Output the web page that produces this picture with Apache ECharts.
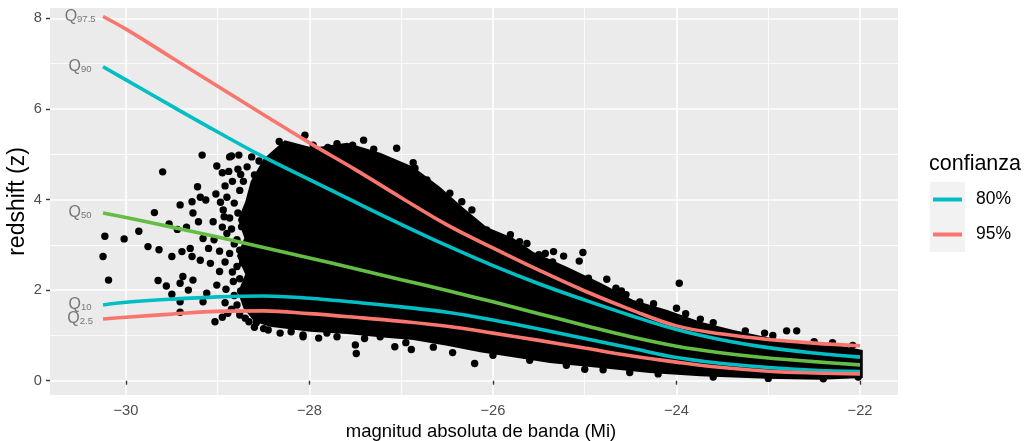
<!DOCTYPE html>
<html>
<head>
<meta charset="utf-8">
<script src="https://cdn.jsdelivr.net/npm/echarts@6.0.0/dist/echarts.min.js"></script>
<style>
  html, body { margin: 0; padding: 0; background: #ffffff; }
  #chart { width: 1027px; height: 441px; }
</style>
</head>
<body>
<div id="chart"></div>
<script>
// Absolute magnitude (Mi) at which the conditional quantile curves are sampled
const magGrid = [-30.25, -30, -29.5, -29, -28.5, -28, -27.5, -27, -26.5, -26, -25.5, -25, -24.5, -24, -23.5, -23, -22.5, -22];

// Conditional quantiles of redshift
const q975 = [8.04, 7.76, 7.13, 6.50, 5.87, 5.25, 4.66, 4.04, 3.44, 2.93, 2.44, 1.98, 1.57, 1.21, 1.03, 0.91, 0.83, 0.77];
const q90  = [6.93, 6.64, 6.06, 5.49, 4.94, 4.44, 3.94, 3.45, 2.98, 2.54, 2.14, 1.78, 1.44, 1.13, 0.90, 0.73, 0.61, 0.52];
const q50  = [3.70, 3.60, 3.39, 3.17, 2.94, 2.71, 2.47, 2.23, 1.99, 1.74, 1.48, 1.22, 0.97, 0.76, 0.61, 0.50, 0.42, 0.35];
const q10  = [1.67, 1.73, 1.80, 1.85, 1.87, 1.82, 1.73, 1.63, 1.51, 1.34, 1.14, 0.93, 0.72, 0.51, 0.38, 0.29, 0.23, 0.20];
const q025 = [1.36, 1.40, 1.47, 1.53, 1.54, 1.48, 1.40, 1.31, 1.20, 1.05, 0.89, 0.72, 0.55, 0.41, 0.29, 0.21, 0.17, 0.15];

// Subscripts of the quantile annotations and where they sit on the magnitude axis
const quantileNames = ['97.5', '90', '50', '10', '2.5'];
const annotationMag = -30.5;

// Outline of the densely populated part of the sample (upper and lower edge)
const cloudUpper = [[-28.72, 1.60], [-28.78, 1.95], [-28.70, 2.35], [-28.79, 2.75], [-28.71, 3.15], [-28.78, 3.55],
  [-28.70, 3.95], [-28.64, 4.40], [-28.50, 4.90], [-28.33, 5.20], [-28.27, 5.31],
  [-27.96, 5.14], [-27.59, 5.25], [-27.23, 5.03], [-26.87, 4.72], [-26.58, 4.28], [-26.33, 3.83], [-26.07, 3.39],
  [-25.78, 3.15], [-25.56, 2.84], [-25.19, 2.51], [-24.83, 2.16], [-24.47, 1.78], [-24.10, 1.56], [-23.74, 1.30],
  [-23.38, 1.12], [-23.01, 0.96], [-22.65, 0.83], [-22.21, 0.77], [-21.97, 0.68]];
const cloudLower = [[-28.72, 1.60], [-28.60, 1.30], [-28.43, 1.19], [-27.99, 1.08], [-27.59, 1.03], [-27.23, 0.96],
  [-26.87, 0.90], [-26.50, 0.77], [-26.14, 0.63], [-25.78, 0.52], [-25.38, 0.39], [-24.83, 0.28], [-24.29, 0.17],
  [-23.74, 0.10], [-23.01, 0.04], [-22.44, 0.02], [-21.97, 0.06]];

// Individual quasars outside the dense core
const quasars = [
  [-29.17, 4.98], [-29.60, 4.61], [-29.01, 4.74], [-28.95, 4.59], [-28.87, 4.94], [-28.77, 4.98], [-28.63, 4.94],
  [-29.22, 4.28], [-29.02, 4.12], [-29.28, 3.95], [-29.41, 3.88], [-29.19, 4.05], [-29.13, 3.99], [-29.69, 3.71],
  [-30.23, 3.19], [-30.02, 3.13], [-29.86, 3.30], [-29.53, 3.46], [-29.44, 3.34], [-29.34, 3.39], [-29.27, 3.70],
  [-29.21, 3.51], [-29.76, 2.96], [-29.64, 2.89], [-30.25, 2.74], [-29.50, 2.74], [-29.39, 2.85], [-29.30, 2.92],
  [-29.28, 2.74], [-29.19, 2.66], [-29.10, 2.92], [-29.16, 3.14], [-29.04, 3.11], [-28.95, 3.39], [-29.05, 3.51],
  [-28.94, 3.77], [-28.87, 3.59], [-30.19, 2.22], [-29.65, 2.21], [-29.56, 2.09], [-29.41, 2.15], [-29.38, 2.30],
  [-29.27, 2.22], [-29.50, 1.91], [-29.41, 1.74], [-29.32, 2.00], [-29.16, 1.74], [-29.12, 1.93], [-29.01, 2.11],
  [-28.98, 2.41], [-29.08, 2.59], [-29.41, 1.51], [-29.03, 1.30], [-28.89, 1.49], [-28.79, 1.67], [-28.68, 1.71],
  [-28.58, 1.28], [-28.83, 2.19], [-28.79, 2.52], [-28.87, 2.81], [-28.79, 3.11], [-28.07, 1.01], [-28.21, 1.23],
  [-28.05, 5.42], [-28.33, 5.28], [-28.23, 5.18], [-27.96, 5.20], [-27.80, 5.15], [-27.70, 5.23], [-27.53, 5.20],
  [-27.41, 5.31], [-27.30, 5.11], [-27.05, 5.13], [-26.87, 4.81], [-26.85, 4.69], [-26.72, 4.43], [-26.47, 4.14],
  [-26.34, 3.95], [-26.23, 3.77], [-26.18, 3.40], [-26.07, 3.33], [-25.81, 3.22], [-25.71, 3.07], [-25.63, 3.03],
  [-25.43, 2.81], [-25.34, 2.85], [-25.23, 2.75], [-25.02, 2.83], [-25.06, 2.64], [-24.96, 2.26], [-24.76, 2.24],
  [-24.66, 2.04], [-24.40, 1.74], [-23.97, 2.15], [-24.00, 1.60], [-23.74, 1.36], [-23.04, 1.05], [-22.80, 1.10],
  [-22.69, 1.10], [-28.85, 4.96], [-28.78, 4.67], [-28.60, 4.54],
  [-28.07, 0.97], [-27.96, 1.19], [-27.90, 0.94], [-27.81, 1.05], [-27.74, 1.19], [-27.50, 0.79], [-27.49, 0.60],
  [-27.23, 0.97], [-27.07, 0.75], [-26.89, 0.69], [-26.44, 0.62], [-26.20, 0.38], [-25.00, 0.25], [-24.51, 0.18],
  [-24.25, 1.70], [-23.90, 1.48], [-23.60, 1.28], [-23.25, 1.10], [-22.95, 1.00], [-22.50, 0.86], [-22.30, 0.84],
  [-22.08, 0.78], [-26.95, 0.84], [-26.65, 0.74], [-26.00, 0.56], [-25.60, 0.45], [-25.20, 0.34], [-24.80, 0.24],
  [-24.20, 0.15], [-23.60, 0.08], [-23.00, 0.05], [-22.40, 0.04], [-22.02, 0.08], [-27.40, 0.93], [-27.70, 0.97],
  [-28.20, 1.08], [-28.50, 1.15], [-25.50, 2.78], [-25.35, 2.62], [-24.60, 1.98], [-24.55, 1.90],
  [-28.92, 4.30], [-28.84, 4.40], [-28.90, 4.05], [-28.82, 3.92], [-28.76, 4.20], [-28.93, 3.62], [-28.85, 3.35],
  [-28.78, 3.70], [-28.90, 3.25], [-28.82, 3.02], [-28.76, 2.88], [-28.92, 2.62], [-28.84, 2.40], [-28.76, 2.25],
  [-28.91, 2.02], [-28.82, 1.88], [-28.75, 1.98], [-28.92, 1.72], [-28.85, 1.58], [-28.76, 1.45], [-28.95, 1.40],
  [-28.70, 1.38], [-28.98, 2.86], [-28.97, 3.94], [-28.88, 4.62], [-28.72, 4.40], [-28.68, 4.72], [-28.55, 4.85],
  [-28.66, 1.30], [-28.45, 1.12], [-28.32, 1.05], [-28.60, 1.18], [-28.74, 3.40], [-28.73, 2.60], [-28.75, 4.55]
];

// Axis extents and grid positions
const magRange = [-30.828, -21.586];
const zRange = [-0.316, 8.227];
const magTicks = [-30, -28, -26, -24, -22];
const magMinor = [-29, -27, -25, -23];
const zTicks = [0, 2, 4, 6, 8];
const zMinor = [1, 3, 5, 7];

const CYAN = '#00BFC4';
const SALMON = '#F8766D';
const GREEN = '#64BE46';
const FONT = 'Liberation Sans, Arial, sans-serif';

const pairs = (ys) => magGrid.map((x, i) => [x, ys[i]]);
const curves = [q975, q90, q50, q10, q025];

function quantileLine(name, ys, color) {
  return {
    name: name,
    type: 'line',
    data: pairs(ys),
    smooth: 0.4,
    showSymbol: false,
    symbol: 'none',
    lineStyle: { color: color, width: 3.6 },
    itemStyle: { color: color },
    silent: true,
    z: 5
  };
}

const chart = echarts.init(document.getElementById('chart'), null, { renderer: 'canvas' });

chart.setOption({
  animation: false,
  backgroundColor: '#ffffff',
  textStyle: { fontFamily: FONT },
  title: {
    text: 'confianza',
    left: 929,
    top: 153,
    padding: 0,
    textStyle: { fontSize: 21.5, fontWeight: 'normal', color: '#000000', fontFamily: FONT }
  },
  legend: [
    {
      // grey key backgrounds
      orient: 'vertical', left: 930, top: 182, padding: 0,
      itemWidth: 35, itemHeight: 35, itemGap: 0,
      icon: 'rect', selectedMode: false,
      formatter: () => '',
      textStyle: { fontSize: 1 },
      data: [
        { name: '80%', itemStyle: { color: '#F2F2F2', borderWidth: 0 } },
        { name: '95%', itemStyle: { color: '#F2F2F2', borderWidth: 0 } }
      ],
      z: 1
    },
    {
      orient: 'vertical', left: 933, top: 182, padding: 0,
      itemWidth: 29, itemHeight: 4, itemGap: 0,
      icon: 'rect', selectedMode: false,
      itemStyle: { borderWidth: 0 },
      textStyle: { fontSize: 17.5, lineHeight: 35, color: '#000000', fontFamily: FONT, padding: [0, 0, 0, 9] },
      data: ['80%', '95%'],
      z: 3
    }
  ],
  grid: { left: 50, right: 129, top: 8, bottom: 46, show: true, backgroundColor: '#EBEBEB', borderWidth: 0, outerBoundsMode: 'none' },
  xAxis: [
    {
      type: 'value', min: magRange[0], max: magRange[1],
      name: 'magnitud absoluta de banda (Mi)', nameLocation: 'middle', nameGap: 27,
      nameTextStyle: { fontSize: 18.5, color: '#000000', fontFamily: FONT, padding: [0, 0, 0, 14] },
      axisLine: { show: false },
      axisTick: { show: true, length: 4, customValues: magTicks, lineStyle: { color: '#333333', width: 1.4 } },
      axisLabel: {
        show: true, customValues: magTicks, margin: 8, fontSize: 14.7, color: '#4D4D4D', fontFamily: FONT,
        formatter: (v) => (v < 0 ? '\u2212' : '') + Math.abs(v)
      },
      splitLine: { show: true, lineStyle: { color: '#FFFFFF', width: 1.6 } }
    },
    {
      type: 'value', min: magRange[0], max: magRange[1], position: 'bottom',
      axisLine: { show: false },
      axisTick: { show: false, customValues: magMinor },
      axisLabel: { show: false },
      splitLine: { show: true, lineStyle: { color: '#FFFFFF', width: 0.8 } }
    }
  ],
  yAxis: [
    {
      type: 'value', min: zRange[0], max: zRange[1],
      name: 'redshift (z)', nameLocation: 'middle', nameGap: 21, nameRotate: 90, nameMoveOverlap: false,
      nameTextStyle: { fontSize: 23, color: '#000000', fontFamily: FONT },
      axisLine: { show: false },
      axisTick: { show: true, length: 4, customValues: zTicks, lineStyle: { color: '#333333', width: 1.4 } },
      axisLabel: { show: true, customValues: zTicks, margin: 8, fontSize: 14.7, color: '#4D4D4D', fontFamily: FONT },
      splitLine: { show: true, lineStyle: { color: '#FFFFFF', width: 1.6 } }
    },
    {
      type: 'value', min: zRange[0], max: zRange[1], position: 'left',
      axisLine: { show: false },
      axisTick: { show: false, customValues: zMinor },
      axisLabel: { show: false },
      splitLine: { show: true, lineStyle: { color: '#FFFFFF', width: 0.8 } }
    }
  ],
  series: [
    {
      // dense core of the sample, drawn as one filled outline
      name: 'core',
      type: 'custom',
      coordinateSystem: 'cartesian2d',
      xAxisIndex: 0, yAxisIndex: 0,
      data: [[-26, 2]],
      silent: true,
      z: 2,
      renderItem: (params, api) => {
        const outline = cloudUpper.concat(cloudLower.slice().reverse());
        return {
          type: 'polygon',
          shape: { points: outline.map((p) => api.coord(p)) },
          style: { fill: '#000000' }
        };
      }
    },
    {
      name: 'quasars',
      type: 'scatter',
      data: quasars,
      symbol: 'circle',
      symbolSize: 7.4,
      itemStyle: { color: '#000000', opacity: 1 },
      silent: true,
      z: 3
    },
    quantileLine('80%', q90, CYAN),
    quantileLine('80%', q10, CYAN),
    quantileLine('95%', q975, SALMON),
    quantileLine('95%', q025, SALMON),
    quantileLine('Q50', q50, GREEN),
    {
      name: 'annotations',
      type: 'scatter',
      symbolSize: 0,
      silent: true,
      z: 6,
      data: quantileNames.map((n, i) => ({ name: n, value: [annotationMag, curves[i][0]] })),
      label: {
        show: true,
        position: 'inside',
        align: 'center',
        verticalAlign: 'middle',
        formatter: (p) => '{q|Q}{s|' + p.name + '}',
        rich: {
          q: { fontSize: 16, lineHeight: 18, color: '#595959', fontFamily: FONT },
          s: { fontSize: 9.5, color: '#595959', fontFamily: FONT, verticalAlign: 'middle', padding: [5, 0, 0, 0] }
        }
      }
    }
  ]
});
</script>
</body>
</html>
